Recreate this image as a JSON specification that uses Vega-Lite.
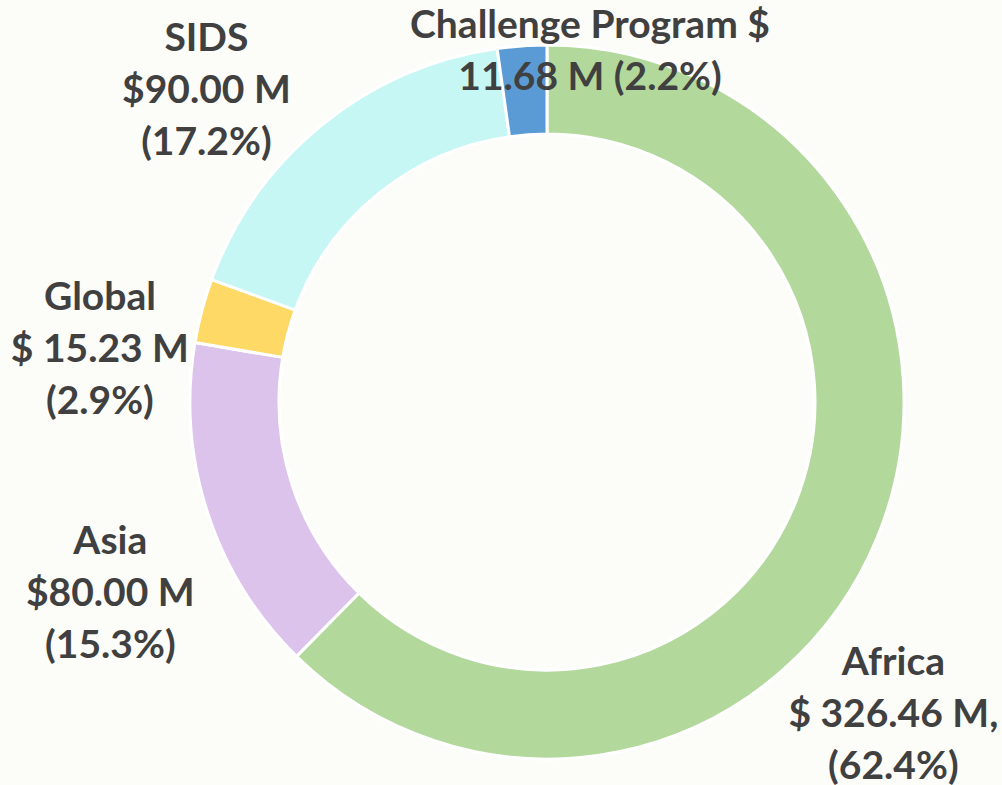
{
  "$schema": "https://vega.github.io/schema/vega-lite/v6.json",
  "width": 714,
  "height": 714,
  "autosize": {"type": "none"},
  "padding": {"left": 190, "top": 45, "right": 98, "bottom": 26},
  "background": "#fcfcf8",
  "config": {"view": {"stroke": null}},
  "data": {
    "values": [
      {"region": "Africa", "amount": 326.46, "rank": 1, "label": "Africa\n$ 326.46 M,\n(62.4%)"},
      {"region": "Asia", "amount": 80.0, "rank": 2, "label": "Asia\n$80.00 M\n(15.3%)"},
      {"region": "Global", "amount": 15.23, "rank": 3, "label": "Global\n$ 15.23 M\n(2.9%)"},
      {"region": "SIDS", "amount": 90.0, "rank": 4, "label": "SIDS\n$90.00 M\n(17.2%)"},
      {"region": "Challenge Program", "amount": 11.68, "rank": 5, "label": "Challenge Program $\n11.68 M (2.2%)"}
    ]
  },
  "encoding": {
    "theta": {"field": "amount", "type": "quantitative", "stack": true},
    "order": {"field": "rank", "type": "quantitative"}
  },
  "layer": [
    {
      "mark": {"type": "arc", "radius": 357, "innerRadius": 268, "stroke": "white", "strokeWidth": 3},
      "encoding": {
        "color": {
          "field": "region",
          "type": "nominal",
          "scale": {
            "domain": ["Africa", "Asia", "Global", "SIDS", "Challenge Program"],
            "range": ["#b3d89c", "#dcc3ec", "#ffd966", "#c6f7f4", "#5b9bd5"]
          },
          "legend": null
        }
      }
    },
    {
      "mark": {"type": "text", "radius": 357, "dx": 16, "dy": 126, "font": "Lato", "fontWeight": "bold", "fontSize": 39, "lineHeight": 52, "lineBreak": "\n", "color": "#404040", "align": "center", "baseline": "middle"},
      "encoding": {"text": {"condition": {"test": "datum.region === 'Africa'", "field": "label"}, "value": ""}}
    },
    {
      "mark": {"type": "text", "radius": 357, "dx": -97, "dy": 30, "font": "Lato", "fontWeight": "bold", "fontSize": 39, "lineHeight": 52, "lineBreak": "\n", "color": "#404040", "align": "center", "baseline": "middle"},
      "encoding": {"text": {"condition": {"test": "datum.region === 'Asia'", "field": "label"}, "value": ""}}
    },
    {
      "mark": {"type": "text", "radius": 357, "dx": -102, "dy": -13, "font": "Lato", "fontWeight": "bold", "fontSize": 39, "lineHeight": 52, "lineBreak": "\n", "color": "#404040", "align": "center", "baseline": "middle"},
      "encoding": {"text": {"condition": {"test": "datum.region === 'Global'", "field": "label"}, "value": ""}}
    },
    {
      "mark": {"type": "text", "radius": 357, "dx": -116, "dy": -86, "font": "Lato", "fontWeight": "bold", "fontSize": 39, "lineHeight": 52, "lineBreak": "\n", "color": "#404040", "align": "center", "baseline": "middle"},
      "encoding": {"text": {"condition": {"test": "datum.region === 'SIDS'", "field": "label"}, "value": ""}}
    },
    {
      "mark": {"type": "text", "radius": 357, "dx": 68, "dy": -20, "font": "Lato", "fontWeight": "bold", "fontSize": 39, "lineHeight": 52, "lineBreak": "\n", "color": "#404040", "align": "center", "baseline": "middle"},
      "encoding": {"text": {"condition": {"test": "datum.region === 'Challenge Program'", "field": "label"}, "value": ""}}
    }
  ]
}
